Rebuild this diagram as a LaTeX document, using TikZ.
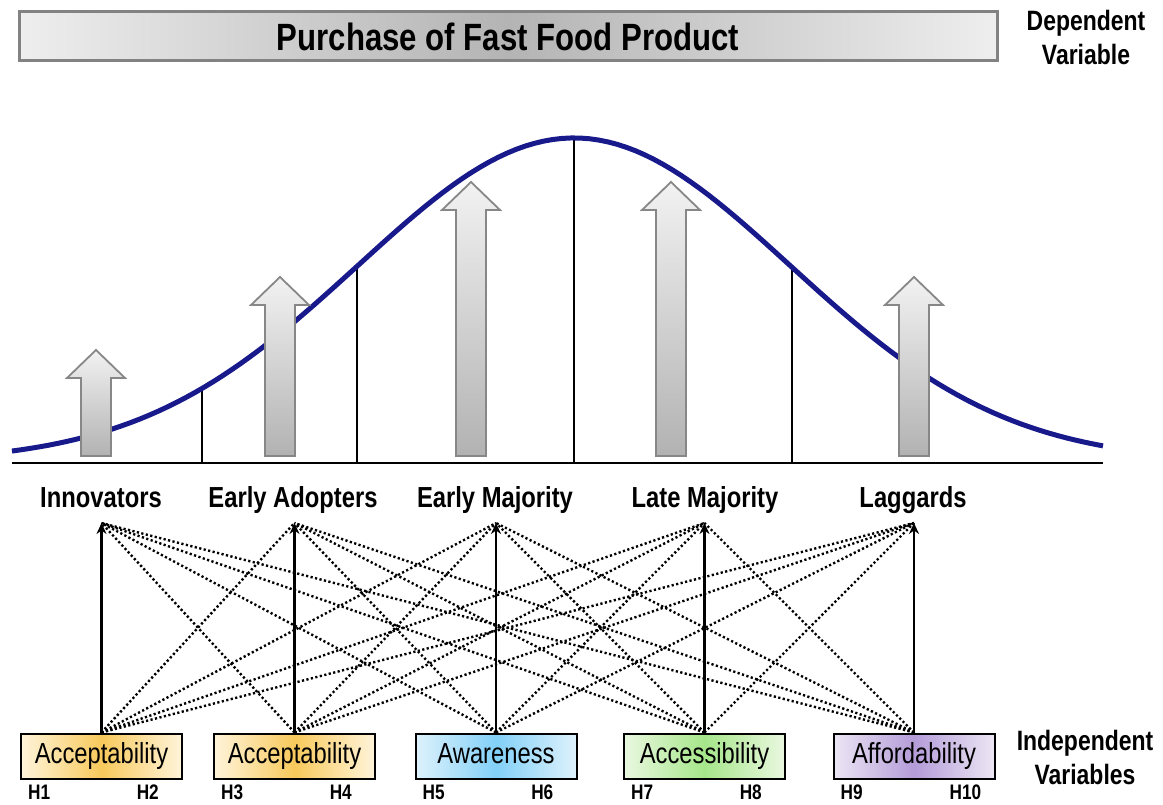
\documentclass[tikz,border=0pt]{standalone}
\usepackage{fontspec}
\setmainfont{Liberation Sans}
\newfontfamily\narrow[FakeStretch=0.82]{Liberation Sans}
\usepackage{tikz}
\usetikzlibrary{arrows.meta}
\definecolor{bellblue}{RGB}{24,26,140}
\definecolor{barEdge}{RGB}{238,238,238}
\definecolor{barMid}{RGB}{180,180,180}
\definecolor{barLine}{RGB}{130,130,130}
\definecolor{arrTop}{RGB}{242,242,242}
\definecolor{arrBot}{RGB}{178,178,178}
\definecolor{arrLine}{RGB}{135,135,135}
\definecolor{accEdge}{RGB}{255,244,218}
\definecolor{accMid}{RGB}{248,201,92}
\definecolor{awaEdge}{RGB}{222,242,252}
\definecolor{awaMid}{RGB}{130,208,248}
\definecolor{cesEdge}{RGB}{234,248,224}
\definecolor{cesMid}{RGB}{166,230,138}
\definecolor{affEdge}{RGB}{236,230,244}
\definecolor{affMid}{RGB}{180,156,216}
\tikzset{catlbl/.style={inner sep=0pt,anchor=base,font={\narrow\bfseries\fontsize{29}{33}\selectfont}},
  var/.style={draw,line width=2pt,minimum width=161pt,minimum height=45pt,inner sep=0pt,text height=21pt,text depth=6pt,font={\narrow\fontsize{29}{33}\selectfont}},
  hyp/.style={inner sep=0pt,font={\narrow\bfseries\fontsize{21}{24}\selectfont}},
  side/.style={inner sep=0pt,align=center,font={\narrow\bfseries\fontsize{28}{34}\selectfont}},
  blk/.style={draw=arrLine,line width=1.8pt,top color=arrTop,bottom color=arrBot},
  dot/.style={line width=2.4pt,dash pattern=on 2.2pt off 2.4pt},
  uparr/.style={line width=2.4pt,-{Stealth[length=11pt,width=10pt]}}}

\begin{document}
\begin{tikzpicture}[x=1pt,y=-1pt,
    declare function={bell(\x)=462-324*exp(-0.5*((\x-574)/216)*((\x-574)/216));}]
    \useasboundingbox (0,0) rectangle (1163,805);
    % dependent variable
    \path[draw=barLine,line width=3pt,left color=barEdge,right color=barEdge,middle color=barMid] (19,12) rectangle (997,61);
    \node[inner sep=0pt,font={\narrow\bfseries\fontsize{38}{40}\selectfont}] (dv) at (508,37) {Purchase of Fast Food Product};
    \node[side] (dvl) at (1086,37) {Dependent\\Variable};
    % bell curve
    \draw[line width=2pt] (202,463) -- (202,{bell(202)})
      (357,463) -- (357,{bell(357)})
      (574,463) -- (574,{bell(574)})
      (792,463) -- (792,{bell(792)});
    \draw[bellblue,line width=5pt] plot[domain=12:1103,samples=120] (\x,{bell(\x)});
    \draw[line width=2.5pt] (12,463) -- (1103,463);
    \path[blk] (96,350) -- (125,378) -- (111,378) -- (111,456) -- (81,456) -- (81,378) -- (67,378) -- cycle;
    \path[blk] (280,277) -- (309,305) -- (295,305) -- (295,456) -- (265,456) -- (265,305) -- (251,305) -- cycle;
    \path[blk] (471,182) -- (500,210) -- (486,210) -- (486,456) -- (456,456) -- (456,210) -- (442,210) -- cycle;
    \path[blk] (671,182) -- (700,210) -- (686,210) -- (686,456) -- (656,456) -- (656,210) -- (642,210) -- cycle;
    \path[blk] (914,277) -- (943,305) -- (929,305) -- (929,456) -- (899,456) -- (899,305) -- (885,305) -- cycle;
    % adopter categories
    \node[catlbl] (c1) at (101,507) {Innovators};
    \node[catlbl] (c2) at (293,507) {Early Adopters};
    \node[catlbl] (c3) at (495,507) {Early Majority};
    \node[catlbl] (c4) at (705,507) {Late Majority};
    \node[catlbl] (c5) at (913,507) {Laggards};
    % independent variables
    \node[var,left color=accEdge,right color=accEdge,middle color=accMid] (b1) at (101.5,756) {Acceptability};
    \node[var,left color=accEdge,right color=accEdge,middle color=accMid] (b2) at (294.5,756) {Acceptability};
    \node[var,left color=awaEdge,right color=awaEdge,middle color=awaMid] (b3) at (496,756) {Awareness};
    \node[var,left color=cesEdge,right color=cesEdge,middle color=cesMid] (b4) at (704.5,756) {Accessibility};
    \node[var,left color=affEdge,right color=affEdge,middle color=affMid] (b5) at (914,756) {Affordability};
    \node[side] (ivl) at (1085,757) {Independent\\Variables};
    \coordinate (t1) at (b1.north |- 0,523);
    \coordinate (t2) at (b2.north |- 0,523);
    \coordinate (t3) at (b3.north |- 0,523);
    \coordinate (t4) at (b4.north |- 0,523);
    \coordinate (t5) at (b5.north |- 0,523);
    \draw[dot] (b1.north) edge (t2) edge (t3) edge (t4) edge (t5)
    (b2.north) edge (t1) edge (t3) edge (t4) edge (t5)
    (b3.north) edge (t1) edge (t2) edge (t4) edge (t5)
    (b4.north) edge (t1) edge (t2) edge (t3) edge (t5)
    (b5.north) edge (t1) edge (t2) edge (t3) edge (t4)
    ;
    \draw (b1.north) edge[uparr] (t1) (b2.north) edge[uparr] (t2) (b3.north) edge[uparr] (t3)
    (b4.north) edge[uparr] (t4) (b5.north) edge[uparr] (t5);
    % hypotheses
    \node[hyp,anchor=north west] (h1) at ([xshift=8pt,yshift=-5pt]b1.south west) {H1};
    \node[hyp,anchor=north east] (h2) at ([xshift=-24pt,yshift=-5pt]b1.south east) {H2};
    \node[hyp,anchor=north west] (h3) at ([xshift=8pt,yshift=-5pt]b2.south west) {H3};
    \node[hyp,anchor=north east] (h4) at ([xshift=-24pt,yshift=-5pt]b2.south east) {H4};
    \node[hyp,anchor=north west] (h5) at ([xshift=8pt,yshift=-5pt]b3.south west) {H5};
    \node[hyp,anchor=north east] (h6) at ([xshift=-24pt,yshift=-5pt]b3.south east) {H6};
    \node[hyp,anchor=north west] (h7) at ([xshift=8pt,yshift=-5pt]b4.south west) {H7};
    \node[hyp,anchor=north east] (h8) at ([xshift=-24pt,yshift=-5pt]b4.south east) {H8};
    \node[hyp,anchor=north west] (h9) at ([xshift=8pt,yshift=-5pt]b5.south west) {H9};
    \node[hyp,anchor=north east] (h10) at ([xshift=-14pt,yshift=-5pt]b5.south east) {H10};
\end{tikzpicture}
\end{document}
